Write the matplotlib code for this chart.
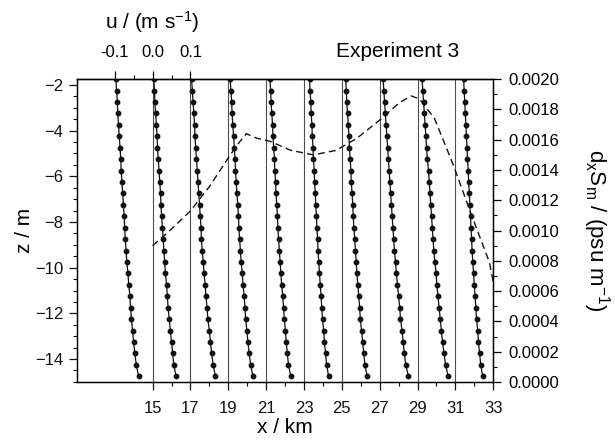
import matplotlib
matplotlib.use("Agg")
import matplotlib.pyplot as plt
import matplotlib.transforms as mtransforms
from matplotlib.ticker import MultipleLocator, FixedLocator, FormatStrFormatter

plt.rcParams.update({
    "font.family": ["Liberation Sans", "DejaVu Sans"],
    "mathtext.default": "regular",
    "axes.linewidth": 0.9,
    "xtick.major.width": 0.9,
    "ytick.major.width": 0.9,
    "xtick.minor.width": 0.8,
    "ytick.minor.width": 0.8,
})

# model levels (m) at which velocity is sampled
depths = [-1.75, -2.25, -2.75, -3.25, -3.75, -4.25, -4.75, -5.25, -5.75,
          -6.25, -6.75, -7.25, -7.75, -8.25, -8.75, -9.25, -9.75, -10.25,
          -10.75, -11.25, -11.75, -12.25, -12.75, -13.25, -13.75, -14.25,
          -14.75]

# stations (km) and the along-channel velocity profile u(z) at each (m/s)
stations = [15, 17, 19, 21, 23, 25, 27, 29, 31, 33]
u_15 = [-0.097, -0.095, -0.093, -0.092, -0.090, -0.088, -0.086, -0.084, -0.083,
        -0.081, -0.079, -0.077, -0.075, -0.074, -0.072, -0.070, -0.068, -0.065,
        -0.063, -0.060, -0.058, -0.056, -0.053, -0.050, -0.047, -0.043, -0.037]
u_17 = [-0.097, -0.095, -0.094, -0.092, -0.090, -0.088, -0.087, -0.085, -0.083,
        -0.081, -0.079, -0.078, -0.076, -0.074, -0.072, -0.070, -0.068, -0.066,
        -0.063, -0.061, -0.059, -0.056, -0.053, -0.050, -0.047, -0.044, -0.038]
u_19 = [-0.097, -0.095, -0.093, -0.091, -0.089, -0.088, -0.086, -0.084, -0.082,
        -0.080, -0.078, -0.076, -0.074, -0.072, -0.071, -0.069, -0.066, -0.064,
        -0.061, -0.059, -0.056, -0.054, -0.050, -0.047, -0.044, -0.040, -0.034]
u_21 = [-0.095, -0.093, -0.091, -0.090, -0.088, -0.086, -0.084, -0.082, -0.081,
        -0.079, -0.077, -0.075, -0.073, -0.072, -0.070, -0.068, -0.066, -0.063,
        -0.061, -0.058, -0.056, -0.054, -0.051, -0.048, -0.045, -0.041, -0.035]
u_23 = [-0.090, -0.088, -0.087, -0.085, -0.083, -0.082, -0.080, -0.078, -0.077,
        -0.075, -0.074, -0.072, -0.070, -0.069, -0.067, -0.065, -0.063, -0.061,
        -0.059, -0.056, -0.054, -0.052, -0.049, -0.047, -0.044, -0.041, -0.035]
u_25 = [-0.085, -0.084, -0.082, -0.081, -0.079, -0.078, -0.076, -0.075, -0.073,
        -0.072, -0.070, -0.069, -0.067, -0.066, -0.064, -0.063, -0.061, -0.059,
        -0.057, -0.055, -0.053, -0.051, -0.048, -0.046, -0.043, -0.040, -0.035]
u_27 = [-0.090, -0.088, -0.087, -0.085, -0.083, -0.081, -0.080, -0.078, -0.076,
        -0.075, -0.073, -0.071, -0.070, -0.068, -0.066, -0.064, -0.062, -0.060,
        -0.058, -0.055, -0.053, -0.051, -0.048, -0.045, -0.042, -0.039, -0.033]
u_29 = [-0.091, -0.089, -0.087, -0.085, -0.083, -0.081, -0.079, -0.077, -0.075,
        -0.073, -0.071, -0.069, -0.067, -0.065, -0.063, -0.061, -0.058, -0.056,
        -0.053, -0.050, -0.047, -0.045, -0.041, -0.038, -0.035, -0.031, -0.024]
u_31 = [-0.088, -0.086, -0.084, -0.082, -0.080, -0.078, -0.076, -0.074, -0.071,
        -0.069, -0.067, -0.065, -0.063, -0.061, -0.059, -0.057, -0.054, -0.051,
        -0.049, -0.046, -0.043, -0.040, -0.037, -0.034, -0.030, -0.026, -0.019]
u_33 = [-0.078, -0.077, -0.075, -0.074, -0.072, -0.071, -0.069, -0.068, -0.066,
        -0.065, -0.063, -0.062, -0.060, -0.059, -0.057, -0.056, -0.054, -0.052,
        -0.050, -0.048, -0.046, -0.044, -0.041, -0.039, -0.036, -0.033, -0.028]
profiles = [u_15, u_17, u_19, u_21, u_23, u_25, u_27, u_29, u_31, u_33]

# depth-mean salinity gradient along the channel (psu/m)
grad_x = [15.0, 16.0, 17.0, 18.0, 19.0, 19.5, 19.95, 20.5, 21.2, 22.3, 23.5,
          24.7, 25.8, 27.0, 28.0, 28.65, 29.1, 29.9, 30.9, 31.8, 32.8, 33.0]
grad_s = [0.00090, 0.00101, 0.00113, 0.00129, 0.00148, 0.00157, 0.00164,
          0.00161, 0.00159, 0.00153, 0.00150, 0.00153, 0.00161, 0.00173,
          0.00184, 0.00189, 0.00187, 0.00174, 0.00143, 0.00112, 0.00079,
          0.00066]

KM_PER_MS = 20.0  # horizontal scale of the velocity profiles: 0.1 m/s -> 2 km
INK = "#111111"

fig = plt.figure(figsize=(6.15, 4.4), dpi=100)
ax = fig.add_axes([0.125, 0.132, 0.677, 0.688])

for x0, u in zip(stations, profiles):
    ax.axvline(x0, color="0.3", lw=0.8, zorder=1)
    ax.plot([x0 + KM_PER_MS * v for v in u], depths, color=INK, lw=0.9,
            marker="o", ms=3.2, zorder=3)

ax.set_xlim(11, 33)
ax.set_ylim(-15, -1.75)
ax.xaxis.set_major_locator(FixedLocator(stations))
ax.xaxis.set_minor_locator(FixedLocator(range(16, 33, 2)))
ax.yaxis.set_major_locator(MultipleLocator(2))
ax.yaxis.set_minor_locator(MultipleLocator(0.5))
ax.tick_params(axis="both", which="major", direction="out", length=6,
               labelsize=12, colors=INK)
ax.tick_params(axis="both", which="minor", direction="out", length=3)
ax.tick_params(axis="x", pad=8)
ax.set_xlabel("x / km", fontsize=15, labelpad=1)
ax.set_ylabel("z / m", fontsize=15, labelpad=1)

# velocity scale along the top edge
top = ax.secondary_xaxis("top", functions=(lambda x: (x - 15) / KM_PER_MS,
                                           lambda u: 15 + KM_PER_MS * u))
top.xaxis.set_major_locator(FixedLocator([-0.1, 0.0, 0.1]))
top.xaxis.set_minor_locator(FixedLocator([-0.05, 0.05]))
top.xaxis.set_major_formatter(FormatStrFormatter("%.1f"))
top.tick_params(which="major", direction="out", length=6, labelsize=12, pad=8)
top.tick_params(which="minor", direction="out", length=3)

trans = mtransforms.blended_transform_factory(ax.transData, fig.transFigure)
ax.text(15, 1 - 22 / 440, "u / (m s$^{-1}$)", transform=trans, ha="center",
        va="center", fontsize=15)
ax.text(398 / 615, 1 - 51 / 440, "Experiment 3", transform=fig.transFigure,
        ha="center", va="center", fontsize=15)

# salinity gradient on the right-hand axis
ax2 = ax.twinx()
ax2.plot(grad_x, grad_s, color=INK, lw=1.0, ls=(0, (5, 3)), zorder=2)
ax2.set_ylim(0, 0.002)
ax2.yaxis.set_major_locator(MultipleLocator(0.0002))
ax2.yaxis.set_minor_locator(MultipleLocator(0.0001))
ax2.yaxis.set_major_formatter(FormatStrFormatter("%.4f"))
ax2.tick_params(which="major", direction="out", length=6, labelsize=12, pad=5)
ax2.tick_params(which="minor", direction="out", length=3)
ax2.set_ylabel("d$_x$S$_m$ / (psu m$^{-1}$)", fontsize=16, rotation=270,
               labelpad=38)

fig.savefig("out.png", dpi=100)
